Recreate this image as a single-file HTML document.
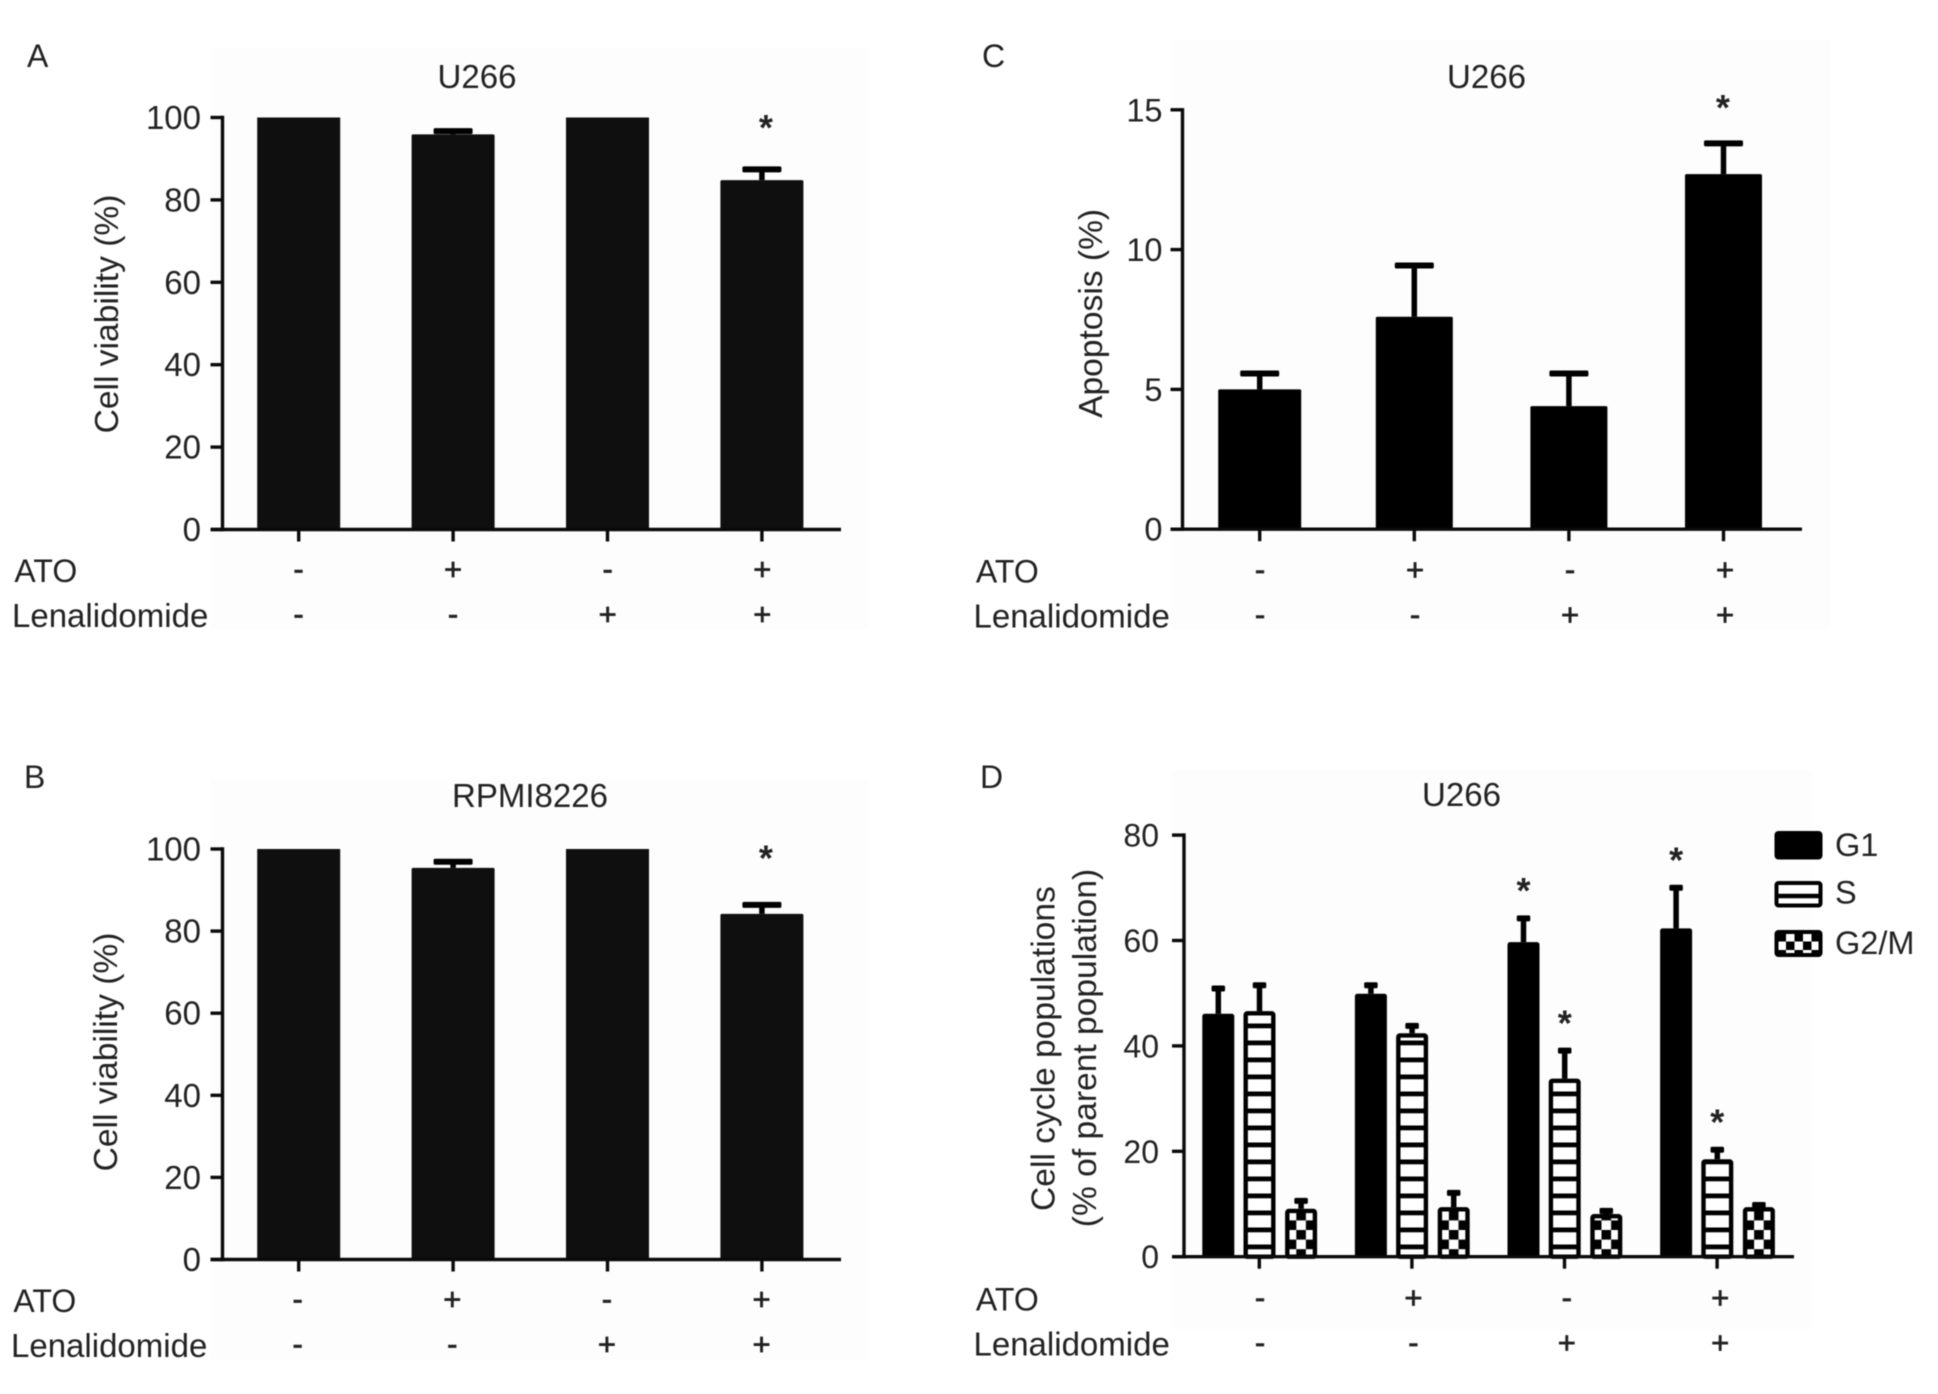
<!DOCTYPE html>
<html lang="en">
<head>
<meta charset="utf-8">
<title>Cell viability, apoptosis and cell cycle charts</title>
<style>
html,body{margin:0;padding:0;background:#fff;width:1938px;height:1394px;overflow:hidden}
svg{display:block;filter:blur(0.55px)}
text{font-family:"Liberation Sans",Arial,sans-serif;fill:#222222}
</style>
</head>
<body>
<svg id="figure" xmlns="http://www.w3.org/2000/svg" width="1938" height="1394" viewBox="0 0 1938 1394">
<defs id="defs"></defs>
<rect x="0" y="0" width="1938" height="1394" fill="#ffffff"></rect>
</svg>
<script>
// ---------- shared data ----------
const categories = ['control', 'ATO', 'Lenalidomide', 'ATO + Lenalidomide'];
const atoSigns = ['-', '+', '-', '+'];
const lenalidomideSigns = ['-', '-', '+', '+'];

// Panel A
const viabilityTicks = [0, 20, 40, 60, 80, 100];
const viabilityU266Values = [100, 95.9, 100, 84.8];
const viabilityU266Errors = [0, 0.8, 0, 2.6];
const viabilityU266Stars = [0, 0, 0, 1];

// Panel B
const viabilityRpmiValues = [100, 95.4, 100, 84.2];
const viabilityRpmiErrors = [0, 1.5, 0, 2.2];
const viabilityRpmiStars = [0, 0, 0, 1];

// Panel C
const apoptosisTicks = [0, 5, 10, 15];
const apoptosisValues = [5.0, 7.6, 4.4, 12.7];
const apoptosisErrors = [0.57, 1.83, 1.17, 1.1];
const apoptosisStars = [0, 0, 0, 1];

// Panel D
const cycleTicks = [0, 20, 40, 60, 80];
const cycleSeriesNames = ['G1', 'S', 'G2/M'];
const g1Values = [46.1, 49.9, 59.7, 62.3];
const g1Errors = [4.8, 1.6, 4.5, 7.7];
const g1Stars = [0, 0, 1, 1];
const sValues = [46.6, 42.4, 33.8, 18.5];
const sErrors = [4.9, 1.4, 5.3, 1.8];
const sStars = [0, 0, 1, 1];
const g2mValues = [9.1, 9.4, 8.1, 9.4];
const g2mErrors = [1.5, 2.7, 0.6, 0.4];
const g2mStars = [0, 0, 0, 0];

// ---------- helpers ----------
const NS = 'http://www.w3.org/2000/svg';
const figure = document.getElementById('figure');
const defs = document.getElementById('defs');
let patternCount = 0;

function mk(parent, tag, attrs, name, interactable) {
  const el = document.createElementNS(NS, tag);
  for (const k in attrs) el.setAttribute(k, attrs[k]);
  
  
  parent.appendChild(el);
  return el;
}
function label(parent, x, y, str, size, anchor, name, extra) {
  const attrs = Object.assign({x: x, y: y, 'font-size': size, 'text-anchor': anchor}, extra || {});
  const el = mk(parent, 'text', attrs, name, false);
  el.textContent = str;
  return el;
}
function line(parent, x1, y1, x2, y2, w, name, color) {
  return mk(parent, 'line', {x1: x1, y1: y1, x2: x2, y2: y2, stroke: color || '#0a0a0a', 'stroke-width': w}, name, false);
}
function slug(s) {
  return String(s).toLowerCase().replace(/[^a-z0-9]+/g, '-').replace(/^-|-$/g, '');
}

function drawStripes(zeroY, id) {
  const p = mk(defs, 'pattern', {id: id, patternUnits: 'userSpaceOnUse', x: 0, y: zeroY - 12.2, width: 40, height: 17}, 'stripe-pattern', false);
  mk(p, 'rect', {x: 0, y: 0, width: 40, height: 4.8, fill: '#000'}, 'stripe', false);
}
function drawChecker(left, center, zeroY, id) {
  const c = 9.6;
  const p = mk(defs, 'pattern', {id: id, patternUnits: 'userSpaceOnUse', x: center - c / 2, y: zeroY - 26.7, width: 2 * c, height: 2 * c}, 'checker-pattern', false);
  mk(p, 'rect', {x: 0, y: 0, width: c, height: c, fill: '#000'}, 'checker-cell', false);
  mk(p, 'rect', {x: c, y: c, width: c, height: c, fill: '#000'}, 'checker-cell', false);
}

function drawErrorBar(g, cx, topY, baseY, capW, name) {
  line(g, cx, baseY, cx, topY, 5.5, name + '-stem', '#000');
  mk(g, 'rect', {x: cx - capW / 2, y: topY - 3, width: capW, height: 6, rx: 1.5, fill: '#000'}, name + '-cap', false);
}

// ---------- panel frame: axes, ticks, labels ----------
function drawFrame(g, cfg, xTickX, yScale) {
  // y axis
  line(g, cfg.axisX, yScale(cfg.ticks[cfg.ticks.length - 1]) - 1.7, cfg.axisX, cfg.zeroY + 1.7, 3.4, 'y-axis');
  cfg.ticks.forEach(function (t) {
    const y = yScale(t);
    line(g, cfg.axisX - 12, y, cfg.axisX, y, 3.4, 'y-tick-' + t);
    label(g, cfg.tickLabelRight, y + 11.5, String(t), cfg.tickSize, 'end', 'y-tick-label-' + t);
  });
  // x axis
  line(g, cfg.axisX - 12, cfg.zeroY, cfg.axisEnd, cfg.zeroY, 3.4, 'x-axis');
  categories.forEach(function (c, i) {
    line(g, xTickX(i), cfg.zeroY, xTickX(i), cfg.zeroY + 12, 3.4, 'x-tick-' + slug(c));
  });
  // factor rows
  label(g, cfg.rowLabelX + 2.4, cfg.atoBase, 'ATO', 32, 'start', 'ato-row-label');
  label(g, cfg.rowLabelX, cfg.lenBase, 'Lenalidomide', 33, 'start', 'lenalidomide-row-label');
  const signStyle = {stroke: '#222222', 'stroke-width': 0.7};
  atoSigns.forEach(function (s, i) {
    label(g, cfg.signX(i), cfg.atoBase - 2.5, s, 31, 'middle', 'ato-sign-' + slug(categories[i]), signStyle);
  });
  lenalidomideSigns.forEach(function (s, i) {
    label(g, cfg.signX(i), cfg.lenBase - 2.5, s, 31, 'middle', 'lenalidomide-sign-' + slug(categories[i]), signStyle);
  });
  // title + panel letter
  label(g, cfg.titleX, cfg.titleY, cfg.title, 33, 'middle', 'chart-title');
  label(g, cfg.letterX, cfg.letterY, cfg.letter, 32, 'start', 'panel-letter');
  // y axis titles
  cfg.yTitles.forEach(function (t, i) {
    const el = label(g, 0, 0, t.text, 33.6, 'middle', 'y-axis-title' + (i ? '-line-2' : ''));
    el.setAttribute('transform', 'translate(' + t.x + ',' + t.y + ') rotate(-90)');
  });
}

function drawStar(g, x, topY, gap, name) {
  const fs = 36;
  label(g, x, topY - gap - 4 + 0.575 * fs, '*', fs, 'middle', name, {'font-weight': 'bold'});
}

// ---------- single-series panels ----------
function drawSimplePanel(cfg, values, errors, stars) {
  const g = mk(figure, 'g', {}, cfg.name, false);
  mk(g, 'rect', {x: cfg.axisX - 12, y: cfg.zeroY - cfg.pxPerUnit * cfg.ticks[cfg.ticks.length - 1] - 70, width: cfg.axisEnd - cfg.axisX + 40, height: cfg.pxPerUnit * cfg.ticks[cfg.ticks.length - 1] + 170, fill: '#fdfdfd'}, 'panel-background', false);
  const xScale = function (i) { return cfg.x0 + i * cfg.step; };
  const yScale = function (v) { return cfg.zeroY - v * cfg.pxPerUnit; };
  values.forEach(function (v, i) {
    const cx = xScale(i);
    const w = cfg.barWidths(i);
    const nm = 'bar-' + slug(categories[i]);
    if (errors[i] > 0) drawErrorBar(g, cx + cfg.errOffset, yScale(v + errors[i]), yScale(v), 39, 'error-bar-' + slug(categories[i]));
    mk(g, 'rect', {x: cx - w / 2, y: yScale(v), width: w, height: cfg.zeroY - yScale(v), rx: v < 100 ? 1.5 : 0, fill: cfg.barColor}, nm, false);
    if (stars[i]) drawStar(g, cx + cfg.starOffset, yScale(v + errors[i]), cfg.starGap, 'significance-star-' + slug(categories[i]));
  });
  drawFrame(g, cfg, xScale, yScale);
}

drawSimplePanel({
  name: 'panel-a-u266-viability', letter: 'A', letterX: 27, letterY: 67,
  title: 'U266', titleX: 477, titleY: 88,
  ticks: viabilityTicks, axisX: 222.5, axisEnd: 841, tickLabelRight: 201, tickSize: 33,
  zeroY: 529.5, pxPerUnit: 4.12, x0: 298.7, step: 154.4,
  barWidths: function () { return 83; }, barColor: '#0f0f0f', errOffset: 0, starOffset: 4, starGap: 46,
  signX: function (i) { return 298.5 + i * 154.6; },
  rowLabelX: 12, atoBase: 582, lenBase: 627,
  yTitles: [{text: 'Cell viability (%)', x: 118, y: 314}]
}, viabilityU266Values, viabilityU266Errors, viabilityU266Stars);

drawSimplePanel({
  name: 'panel-b-rpmi8226-viability', letter: 'B', letterX: 24, letterY: 788,
  title: 'RPMI8226', titleX: 530, titleY: 807,
  ticks: viabilityTicks, axisX: 222.5, axisEnd: 841, tickLabelRight: 201, tickSize: 33,
  zeroY: 1259.5, pxPerUnit: 4.105, x0: 298.7, step: 154.4,
  barWidths: function () { return 83; }, barColor: '#0f0f0f', errOffset: 0, starOffset: 4, starGap: 51,
  signX: function (i) { return 297.7 + i * 154.6; },
  rowLabelX: 11, atoBase: 1312, lenBase: 1357,
  yTitles: [{text: 'Cell viability (%)', x: 117, y: 1052}]
}, viabilityRpmiValues, viabilityRpmiErrors, viabilityRpmiStars);

drawSimplePanel({
  name: 'panel-c-u266-apoptosis', letter: 'C', letterX: 982, letterY: 67,
  title: 'U266', titleX: 1486.5, titleY: 88,
  ticks: apoptosisTicks, axisX: 1182.5, axisEnd: 1802, tickLabelRight: 1162.5, tickSize: 32.5,
  zeroY: 529.2, pxPerUnit: 27.96, x0: 1259.7, step: 154.6,
  barWidths: function (i) { return i === 0 ? 83 : 77; }, barColor: '#000000', errOffset: 0, starOffset: -0.6, starGap: 40,
  signX: function (i) { return 1260 + i * 155; },
  rowLabelX: 973.5, atoBase: 582.5, lenBase: 627.5,
  yTitles: [{text: 'Apoptosis (%)', x: 1102, y: 313.4}]
}, apoptosisValues, apoptosisErrors, apoptosisStars);

// ---------- panel D: grouped bars ----------
(function () {
  const cfg = {
    name: 'panel-d-u266-cell-cycle', letter: 'D', letterX: 980, letterY: 788,
    title: 'U266', titleX: 1461.5, titleY: 806,
    ticks: cycleTicks, axisX: 1184, axisEnd: 1794, tickLabelRight: 1159, tickSize: 32,
    zeroY: 1256.7, pxPerUnit: 5.27, x0: 1259.3, step: 152.6,
    tickLen: 12,
    signX: function (i) { return 1260 + i * 153.4; },
    rowLabelX: 973.5, atoBase: 1310.5, lenBase: 1355.5,
    yTitles: [
      {text: 'Cell cycle populations', x: 1054.5, y: 1048.6},
      {text: '(% of parent population)', x: 1096, y: 1048}
    ]
  };
  const g = mk(figure, 'g', {}, cfg.name, false);
  mk(g, 'rect', {x: cfg.axisX - 12, y: 770, width: 640, height: 560, fill: '#fdfdfd'}, 'panel-background', false);
  const xScale = function (i) { return cfg.x0 + i * cfg.step; };
  const yScale = function (v) { return cfg.zeroY - v * cfg.pxPerUnit; };
  const stripeId = 'stripes-main';
  drawStripes(cfg.zeroY, stripeId);
  const seriesOffsets = [-41, 0.2, 41.8];
  const barW = 32;
  const seriesSets = [
    [g1Values, g1Errors, g1Stars],
    [sValues, sErrors, sStars],
    [g2mValues, g2mErrors, g2mStars]
  ];
  seriesSets.forEach(function (set, s) {
    const vals = set[0], errs = set[1], st = set[2];
    vals.forEach(function (v, i) {
      const cx = xScale(i) + seriesOffsets[s];
      const nm = slug(cycleSeriesNames[s]) + '-' + slug(categories[i]);
      drawErrorBar(g, cx, yScale(v + errs[i]), yScale(v), 13.5, 'error-bar-' + nm);
      if (s === 0) {
        mk(g, 'rect', {x: cx - barW / 2, y: yScale(v), width: barW, height: cfg.zeroY - yScale(v), rx: 2.5, fill: '#000'}, 'bar-' + nm, false);
      } else {
        let fill = 'url(#' + stripeId + ')';
        if (s === 2) {
          patternCount += 1;
          const id = 'checker-' + patternCount;
          drawChecker(cx - barW / 2, cx, cfg.zeroY, id);
          fill = 'url(#' + id + ')';
        }
        const inset = 2.2;
        mk(g, 'rect', {x: cx - barW / 2 + inset, y: yScale(v) + inset, width: barW - 2 * inset, height: cfg.zeroY - yScale(v) - inset, fill: '#fff'}, 'bar-background-' + nm, false);
        mk(g, 'rect', {x: cx - barW / 2 + inset, y: yScale(v) + inset, width: barW - 2 * inset, height: cfg.zeroY - yScale(v) - inset, rx: 1.5, fill: fill, stroke: '#000', 'stroke-width': 4.4}, 'bar-' + nm, false);
      }
      if (st[i]) drawStar(g, cx, yScale(v + errs[i]), 32, 'significance-star-' + nm);
    });
  });
  drawFrame(g, cfg, xScale, yScale);

  // legend
  const lg = mk(g, 'g', {}, 'legend', false);
  const swX = 1774.5, swW = 48;
  const e1 = mk(lg, 'g', {}, 'legend-entry-g1', false);
  mk(e1, 'rect', {x: swX, y: 831, width: swW, height: 28.5, rx: 4, fill: '#000'}, 'legend-swatch-g1', false);
  label(e1, 1835, 856, cycleSeriesNames[0], 32.5, 'start', 'legend-label-g1');
  const e2 = mk(lg, 'g', {}, 'legend-entry-s', false);
  mk(e2, 'rect', {x: swX + 2, y: 883, width: swW - 4, height: 22.5, rx: 2, fill: '#fff', stroke: '#000', 'stroke-width': 4}, 'legend-swatch-s', false);
  line(e2, swX + 2, 896, swX + swW - 2, 896, 4.5, 'legend-swatch-s-stripe', '#000');
  label(e2, 1835, 903.5, cycleSeriesNames[1], 32.5, 'start', 'legend-label-s');
  const e3 = mk(lg, 'g', {}, 'legend-entry-g2m', false);
  patternCount += 1;
  const lp = 'checker-' + patternCount;
  const pat = mk(defs, 'pattern', {id: lp, patternUnits: 'userSpaceOnUse', x: swX + 3, y: 933, width: 17, height: 17}, 'checker-pattern', false);
  mk(pat, 'rect', {x: 0, y: 0, width: 8.5, height: 8.5, fill: '#000'}, 'checker-cell', false);
  mk(pat, 'rect', {x: 8.5, y: 8.5, width: 8.5, height: 8.5, fill: '#000'}, 'checker-cell', false);
  mk(e3, 'rect', {x: swX + 2, y: 932, width: swW - 4, height: 23, fill: '#fff'}, 'legend-swatch-g2m-background', false);
  mk(e3, 'rect', {x: swX + 2, y: 932, width: swW - 4, height: 23, rx: 2, fill: 'url(#' + lp + ')', stroke: '#000', 'stroke-width': 4}, 'legend-swatch-g2m', false);
  label(e3, 1835, 954, cycleSeriesNames[2], 32.5, 'start', 'legend-label-g2m');
})();
</script>
</body>
</html>
